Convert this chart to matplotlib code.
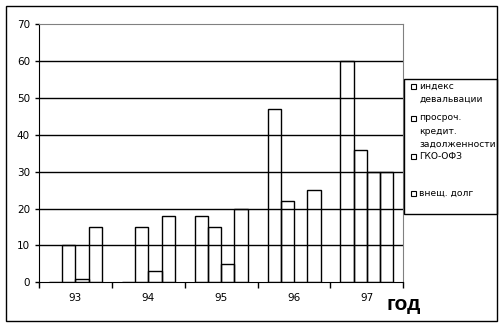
import matplotlib.pyplot as plt
from matplotlib.patches import Rectangle
import numpy as np

years = ["93", "94", "95", "96", "97"]
labels = ["индекс\nдевальвации", "просроч.\nкредит.\nзадолженности", "ГКО-ОФЗ", "внещ. долг"]
devalv = [0, 0, 18, 47, 60]
prosroch = [10, 15, 15, 22, 36]
gko = [1, 3, 5, 0, 30]
vnesh = [15, 18, 20, 25, 30]
series = [devalv, prosroch, gko, vnesh]

W, H = 503, 327
fig = plt.figure(figsize=(W / 100, H / 100), dpi=100)
ax = fig.add_axes([39 / W, 1 - 282.3 / H, (403.3 - 39) / W, (282.3 - 24.3) / H])

x = np.arange(len(years))
w = 1 / 5.5
for i, s in enumerate(series):
    ax.bar(x + (i - 1.5) * w, s, w, facecolor="none", edgecolor="black", linewidth=1, zorder=3)

ax.set_xlim(-0.5, len(years) - 0.5)
ax.set_ylim(0, 70)
ax.set_yticks(range(0, 71, 10))
for v in range(10, 70, 10):
    ax.axhline(v, color="black", linewidth=1, zorder=1)

ax.set_xticks(x)
ax.set_xticklabels(years)
ax.set_xticks(np.arange(-0.5, len(years)), minor=True)
ax.tick_params(axis="x", which="major", length=0, pad=8, labelsize=7.5)
ax.tick_params(axis="x", which="minor", length=4, width=1, direction="out")
ax.tick_params(axis="y", length=3, width=1, pad=3.5, labelsize=7.5)
for side in ["left", "bottom"]:
    ax.spines[side].set_color("black")
for side in ["top", "right"]:
    ax.spines[side].set_color("#808080")

fig.text(404 / W, 1 - 305 / H, "год", fontsize=15, fontweight="bold",
         family="Liberation Sans", ha="center", va="center")

# outer frame
fig.patches.append(Rectangle((5.5 / W, 1 - 321 / H), (496.7 - 5.5) / W, (321 - 5.5) / H,
                             transform=fig.transFigure, fill=False, edgecolor="black", linewidth=1))

# legend
fig.patches.append(Rectangle((404.3 / W, 1 - 214.3 / H), (496.7 - 404.3) / W, (214.3 - 79.3) / H,
                             transform=fig.transFigure, fill=False, edgecolor="black", linewidth=1))
entry_y = [86, 118, 157, 193]
for lab, y0 in zip(labels, entry_y):
    fig.patches.append(Rectangle((410.5 / W, 1 - (y0 + 2.5) / H), 5 / W, 5 / H,
                                 transform=fig.transFigure, fill=False, edgecolor="black", linewidth=0.8))
    for k, line in enumerate(lab.split("\n")):
        fig.text(419 / W, 1 - (y0 + 13 * k) / H, line, fontsize=6.6, ha="left", va="center")

fig.savefig("out.png", dpi=100)
